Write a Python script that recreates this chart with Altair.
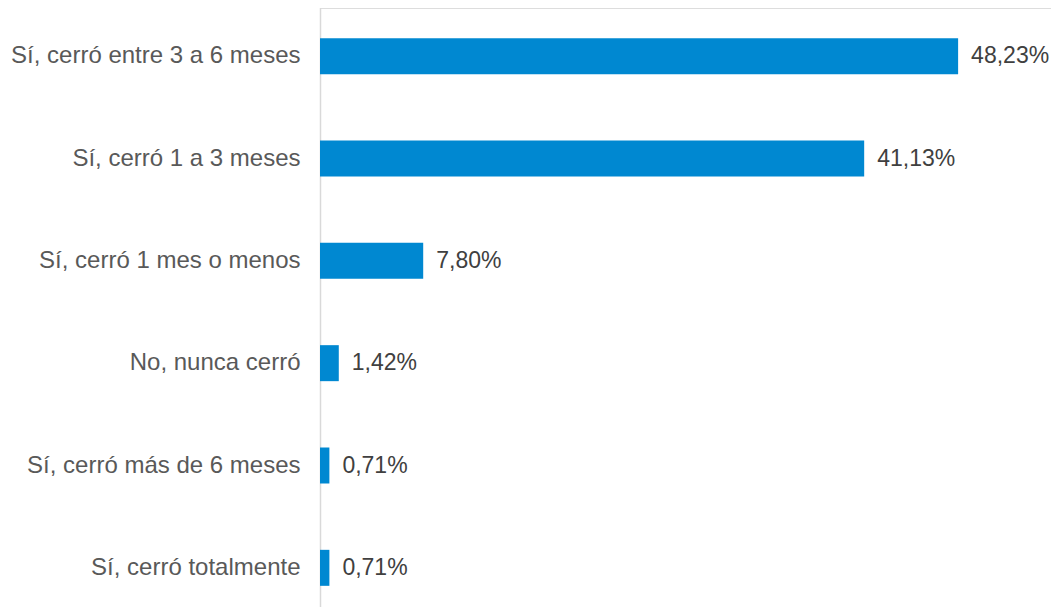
import altair as alt
import pandas as pd

categories = [
    "Sí, cerró entre 3 a 6 meses",
    "Sí, cerró 1 a 3 meses",
    "Sí, cerró 1 mes o menos",
    "No, nunca cerró",
    "Sí, cerró más de 6 meses",
    "Sí, cerró totalmente",
]
values = [48.23, 41.13, 7.80, 1.42, 0.71, 0.71]
labels = [f"{v:.2f}".replace(".", ",") + "%" for v in values]

df = pd.DataFrame({"cat": categories, "val": values, "lab": labels})

FONT = "Liberation Sans"
y_enc = alt.Y(
    "cat:N",
    sort=categories,
    scale=alt.Scale(range=[-3, 611], paddingInner=0, paddingOuter=0),
    axis=alt.Axis(
        title=None,
        ticks=False,
        labelFontSize=24,
        labelFont=FONT,
        labelColor="#595959",
        labelPadding=20,
        labelLimit=400,
        domainColor="#D9D9D9",
        domainWidth=1.5,
        grid=False,
    ),
)
x_enc = alt.X("val:Q", scale=alt.Scale(domain=[0, 55.25]), axis=None)

bars = alt.Chart(df).mark_bar(size=36, color="#0088D1").encode(x=x_enc, y=y_enc)
text = alt.Chart(df).mark_text(
    align="left", baseline="middle", dx=13, fontSize=23, font=FONT, color="#404040"
).encode(x=x_enc, y=y_enc, text="lab:N")

chart = (
    (bars + text)
    .properties(
        width=731,
        height=599,
        autosize=alt.AutoSizeParams(type="none"),
        padding={"left": 312, "top": 0, "right": 0, "bottom": 0},
    )
    .configure_view(stroke="transparent", strokeWidth=0)
    .configure(background="white")
)

chart.save("out.html", embed_options={"renderer": "svg", "actions": False})
